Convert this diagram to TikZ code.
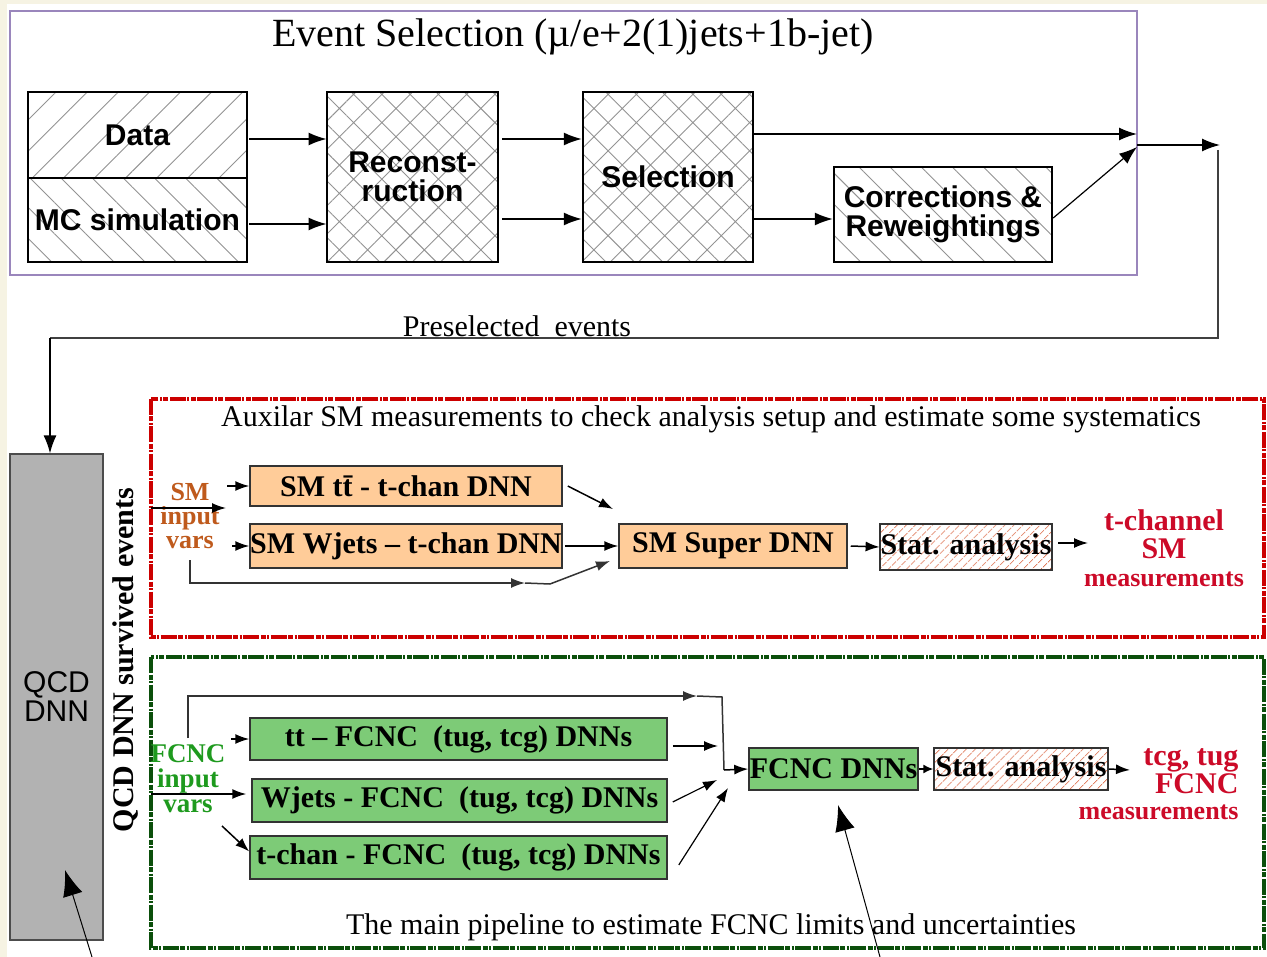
\documentclass[tikz,border=0pt]{standalone}
\usepackage{fontspec}
\setmainfont{Liberation Serif}
\newfontfamily\arialf{Liberation Sans}
\usetikzlibrary{arrows.meta,patterns.meta}
\definecolor{cream}{HTML}{F6F3E3}
\definecolor{purp}{HTML}{9A86BC}
\definecolor{redframe}{HTML}{CC0000}
\definecolor{greenframe}{HTML}{0B4F0B}
\definecolor{orfill}{HTML}{FFCC99}
\definecolor{grfill}{HTML}{7DCB77}
\definecolor{qcdgray}{HTML}{B2B2B2}
\definecolor{smcol}{HTML}{BF5A1C}
\definecolor{fcnccol}{HTML}{1E9A1E}
\definecolor{outred}{HTML}{CC0A28}
\definecolor{hatchred}{HTML}{E07A5A}
\tikzset{
  topbox/.style={draw=black, line width=2.4pt, inner sep=0pt, align=center, font=\arialf\bfseries\fontsize{30}{29}\selectfont},
  lineshatch/.style={pattern={Lines[angle=#1,distance=22pt,line width=0.9pt]}, pattern color=gray!85},
  crosshatch/.style={pattern={Hatch[angle=45,distance=20pt,line width=0.9pt]}, pattern color=gray!85},
  bigarr/.style={-{Latex[length=18pt,width=13pt]}, line width=1.6pt},
  arr/.style={-{Latex[length=14pt,width=10pt]}, line width=1.5pt},
  smallarr/.style={-{Latex[length=10pt,width=9pt]}, line width=1.5pt},
  dnnbox/.style={draw=black!80, line width=1.5pt, inner sep=0pt, font=\bfseries\fontsize{30}{30}\selectfont},
  orbox/.style={dnnbox, fill=orfill},
  grbox/.style={dnnbox, fill=grfill},
  statbox/.style={dnnbox, pattern={Lines[angle=45,distance=6.5pt,line width=0.8pt]}, pattern color=hatchred},
  pointer/.style={-{Latex[length=26pt,width=20pt]}, line width=1pt},
  dashframe/.style={line width=4pt, dash pattern=on 16pt off 1.5pt on 5pt off 1.5pt on 2pt off 1.5pt},
  serif30/.style={font=\fontsize{30}{32}\selectfont},
}
\begin{document}
\begin{tikzpicture}[x=1pt,y=-1pt]
\useasboundingbox (0,0) rectangle (1267,957);
\fill[cream] (0,0) rectangle (1267,957);
\fill[white] (7,4) rectangle (1267,957);
% ---------- top section
\draw[purp, line width=1.2pt] (10,11) rectangle (1137,275);
\node[font=\fontsize{40}{42}\selectfont] (title) at (573,37) {Event Selection (µ/e+2(1)jets+1b-jet)};
\node[topbox, lineshatch=45, minimum width=219pt, minimum height=86pt] (data) at (137.5,135) {Data};
\node[topbox, lineshatch=-45, minimum width=219pt, minimum height=84pt] (mc) at (137.5,220) {MC simulation};
\node[topbox, crosshatch, minimum width=171pt, minimum height=170pt] (reco) at (412.5,177) {Reconst-\\ruction};
\node[topbox, crosshatch, minimum width=170pt, minimum height=170pt] (sel) at (668,177) {Selection};
\node[topbox, lineshatch=-45, minimum width=218pt, minimum height=95pt] (corr) at (943,214.5) {Corrections \&\\Reweightings};
% ---------- QCD column
\node[draw=black!70, fill=qcdgray, line width=1.2pt, minimum width=93pt, minimum height=486pt, inner sep=0pt,
      align=center, font=\arialf\fontsize{30}{29}\selectfont] (qcd) at (56.5,697) {QCD\\DNN};
\node[rotate=90, font=\bfseries\fontsize{30}{32}\selectfont] (surv) at (126,660) {QCD DNN survived events};
\coordinate (j1) at (1137,134);
\coordinate (j2) at (1137,147);
\coordinate (j3) at (1137,145);
\coordinate (j4) at (1220,145);
\coordinate (j5) at (1218,150);
\coordinate (j6) at (50,338);
\draw[bigarr] ([xshift=2pt,yshift=-4pt]data.east) -- ([yshift=-4pt]data.east -| reco.west);
\draw[bigarr] ([xshift=2pt,yshift=-4pt]mc.east) -- ([yshift=-4pt]mc.east -| reco.west);
\draw[bigarr] ([xshift=4pt,yshift=38pt]reco.east) -- ([yshift=38pt]sel.west);
\draw[bigarr] ([xshift=4pt,yshift=-42pt]reco.east) -- ([yshift=-42pt]sel.west);
\draw[bigarr] ([yshift=43pt]sel.east) -- (j1);
\draw[bigarr] ([yshift=-42pt]sel.east) -- ([yshift=-42pt]sel.east -| corr.west);
\draw[bigarr, line width=1.2pt] ([yshift=-3.5pt]corr.east) -- (j2);
\draw[bigarr] (j3) -- (j4);
\draw[black!75, line width=1.5pt] (j5) |- (j6);
\draw[bigarr, line width=1.5pt, black] (j6) -- (qcd.north -| j6);
\node[serif30] (pre) at (517,326) {Preselected\ \ events};
% ---------- red frame
\draw[redframe, dashframe] (151,399) rectangle (1264,637);
\node[serif30] (auxt) at (711,419) {Auxilar SM measurements to check analysis setup and estimate some systematics};
\node[smcol, font=\bfseries\fontsize{26}{24}\selectfont, align=center] (smin) at (190,516) {SM\\input\\vars};
\node[orbox, minimum width=312pt, minimum height=40pt] (smtt) at (406,486) {SM tt̄ - t-chan DNN};
\node[orbox, minimum width=312pt, minimum height=44pt] (smw) at (406,546) {SM Wjets – t-chan DNN};
\node[orbox, minimum width=228pt, minimum height=44pt] (smsup) at (733,546) {SM Super DNN};
\node[statbox, minimum width=172pt, minimum height=46pt] (stat1) at (966,547) {Stat. analysis};
\node[outred, font=\bfseries\fontsize{30}{28}\selectfont, align=center] (tout) at (1164,548)
  {t-channel\\SM\\{\fontsize{26}{27}\selectfont measurements}};
\coordinate (s0) at (151,508);
\coordinate (s1) at (226,508);
\coordinate (m1) at (613,509);
\coordinate (b0) at (190,560);
\coordinate (b1) at (525,583);
\coordinate (b2) at (550,584);
\coordinate (b3) at (610,561);
\coordinate (t1) at (1088,543);
\draw[arr] (s0) -- (s1);
\draw[arr] ([xshift=-22pt]smtt.west) -- (smtt.west);
\draw[arr] ([xshift=-17pt]smw.west) -- (smw.west);
\draw[arr] ([xshift=5pt]smtt.east) -- (m1);
\draw[arr] ([xshift=2pt]smw.east) -- (smsup.west);
\draw[arr, black!80] (b0) |- (b1);
\draw[black!80, line width=1.5pt] (b1) -- (b2);
\draw[arr, black!80] (b2) -- (b3);
\draw[arr] ([xshift=3pt]smsup.east) -- (stat1.west);
\draw[arr] ([xshift=6pt,yshift=4pt]stat1.east) -- (t1);
% ---------- green frame
\draw[greenframe, dashframe] (151,657) rectangle (1264,948);
\node[fcnccol, font=\bfseries\fontsize{27}{25}\selectfont, align=center] (fin) at (188,779) {FCNC\\input\\vars};
\node[grbox, minimum width=417pt, minimum height=42pt] (ftt) at (458.5,739) {tt – FCNC\ \ (tug, tcg) DNNs};
\node[grbox, minimum width=415pt, minimum height=43pt] (fwj) at (459.5,800.5) {Wjets - FCNC\ \ (tug, tcg) DNNs};
\node[grbox, minimum width=417pt, minimum height=43pt] (ftc) at (458.5,857.5) {t-chan - FCNC\ \ (tug, tcg) DNNs};
\node[grbox, minimum width=169pt, minimum height=42pt] (fdnn) at (833.5,769) {FCNC DNNs};
\node[statbox, minimum width=174pt, minimum height=42pt] (stat2) at (1021,769) {Stat. analysis};
\node[outred, anchor=east, font=\bfseries\fontsize{30}{26}\selectfont, align=right] (fout) at (1242,784)
  {tcg, tug\\FCNC\\{\fontsize{26}{28}\selectfont measurements}};
\node[serif30] (mainl) at (711,927) {The main pipeline to estimate FCNC limits and uncertainties};
\coordinate (g0) at (188,738);
\coordinate (g1) at (697,696);
\coordinate (g2) at (722,697);
\coordinate (g3) at (724,770);
\coordinate (g4) at (151,794);
\coordinate (g5) at (222,826);
\coordinate (g6) at (718,746);
\coordinate (g7) at (717,780);
\coordinate (g8) at (728,788);
\coordinate (g9) at (1130,770);
\draw[arr, black!80] (g0) |- (g1);
\draw[black!80, line width=1.5pt] (g1) -- (g2) -- (g3);
\draw[arr] (g3) -- (fdnn.west);
\draw[arr] ([xshift=-18pt]ftt.west) -- (ftt.west);
\draw[arr] (g4) -- ([xshift=-5pt,yshift=6.5pt]fwj.west);
\draw[arr] (g5) -- ([yshift=6pt]ftc.west);
\draw[arr] ([xshift=5pt,yshift=-7pt]ftt.east) -- (g6);
\draw[arr, line width=1.2pt] ([xshift=5pt,yshift=-1.5pt]fwj.east) -- (g7);
\draw[arr, line width=1.2pt] ([xshift=11pt,yshift=-7.5pt]ftc.east) -- (g8);
\draw[smallarr] (fdnn.east) -- (stat2.west);
\draw[arr] (stat2.east) -- (g9);
% ---------- pointers
\coordinate (p0) at (92,957);
\coordinate (p1) at (65,870);
\coordinate (p2) at (880,957);
\coordinate (p3) at (838,805);
\draw[pointer] (p0) -- (p1);
\draw[pointer] (p2) -- (p3);
\end{tikzpicture}
\end{document}
